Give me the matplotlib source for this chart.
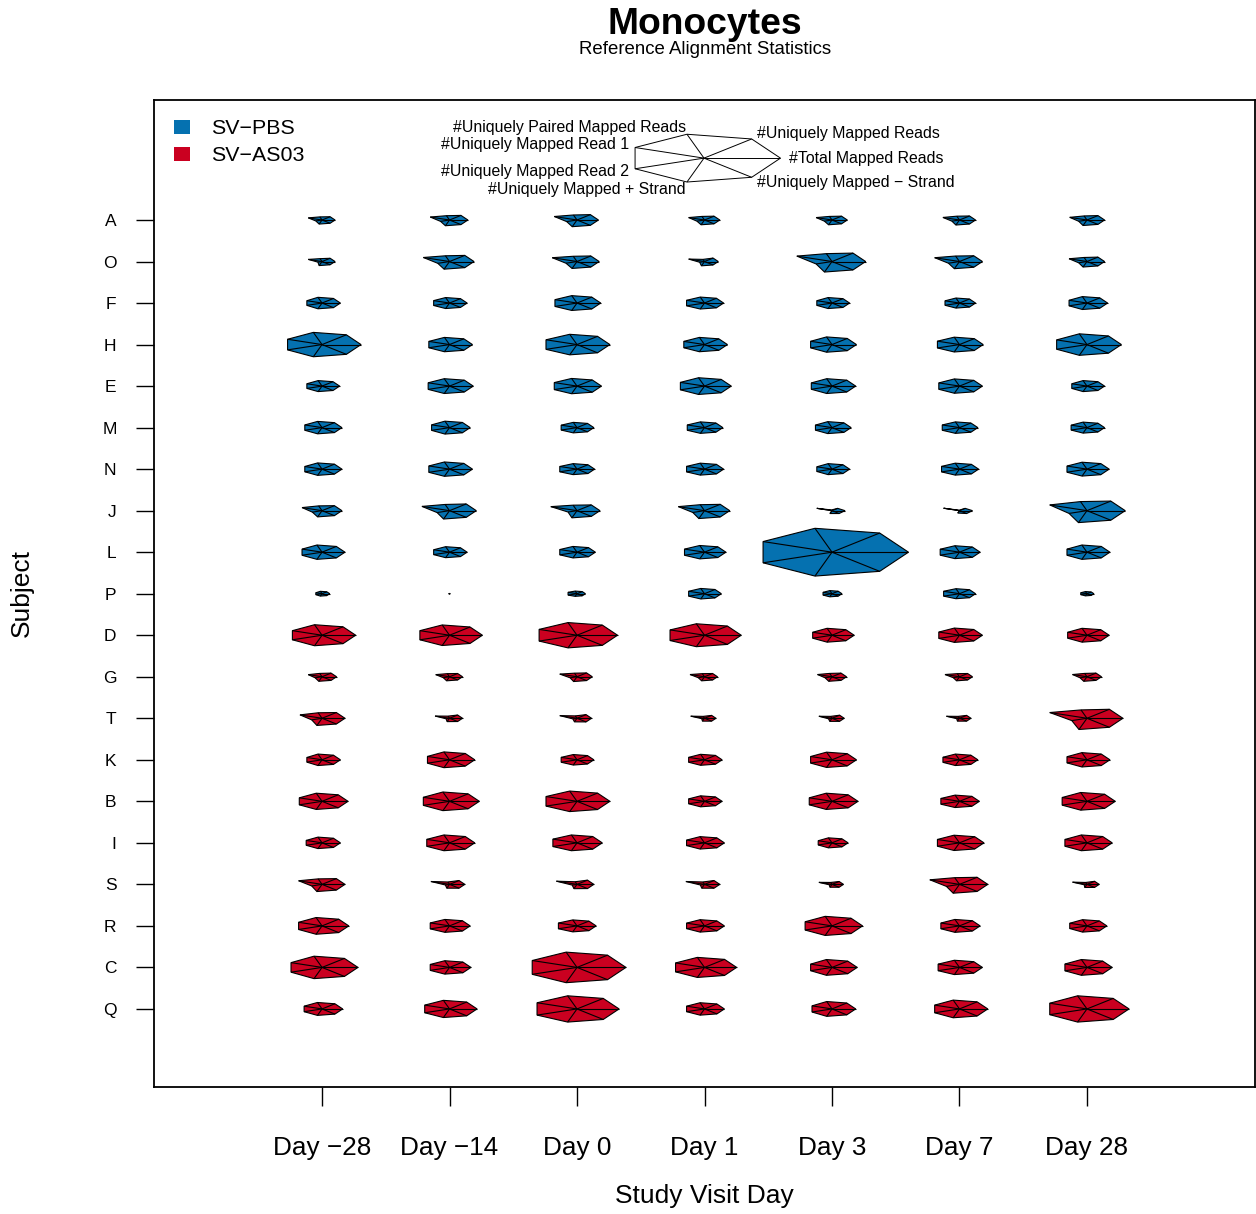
import numpy as np
import matplotlib
matplotlib.use("Agg")
import matplotlib.pyplot as plt
from matplotlib.patches import Polygon, Rectangle

plt.rcParams['font.family'] = ['Liberation Sans', 'DejaVu Sans']

subjects = ['A', 'O', 'F', 'H', 'E', 'M', 'N', 'J', 'L', 'P',
            'D', 'G', 'T', 'K', 'B', 'I', 'S', 'R', 'C', 'Q']
groups = ['SV\u2212PBS'] * 10 + ['SV\u2212AS03'] * 10
days = ['Day \u221228', 'Day \u221214', 'Day 0', 'Day 1', 'Day 3', 'Day 7', 'Day 28']
variables = ['#Total Mapped Reads', '#Uniquely Mapped Reads',
             '#Uniquely Paired Mapped Reads', '#Uniquely Mapped Read 1',
             '#Uniquely Mapped Read 2', '#Uniquely Mapped + Strand',
             '#Uniquely Mapped \u2212 Strand']
group_colors = {'SV\u2212PBS': '#0571B0', 'SV\u2212AS03': '#CA0020'}

# scaled statistics (0 = min, 1 = max over all samples), rows = subjects, cols = days
total_mapped = [
    [0.17, 0.24, 0.28, 0.20, 0.20, 0.21, 0.23],
    [0.17, 0.32, 0.29, 0.18, 0.44, 0.30, 0.23],
    [0.24, 0.23, 0.31, 0.25, 0.23, 0.21, 0.27],
    [0.51, 0.30, 0.43, 0.30, 0.32, 0.31, 0.45],
    [0.23, 0.31, 0.32, 0.35, 0.31, 0.30, 0.23],
    [0.26, 0.27, 0.22, 0.24, 0.25, 0.24, 0.23],
    [0.26, 0.30, 0.23, 0.25, 0.23, 0.25, 0.29],
    [0.26, 0.35, 0.30, 0.33, 0.17, 0.17, 0.50],
    [0.30, 0.23, 0.24, 0.28, 1.00, 0.27, 0.30],
    [0.10, 0.01, 0.11, 0.22, 0.13, 0.21, 0.09],
    [0.44, 0.43, 0.53, 0.48, 0.29, 0.30, 0.29],
    [0.19, 0.17, 0.20, 0.17, 0.19, 0.17, 0.19],
    [0.30, 0.17, 0.19, 0.15, 0.16, 0.15, 0.47],
    [0.24, 0.33, 0.22, 0.23, 0.32, 0.24, 0.30],
    [0.34, 0.39, 0.43, 0.23, 0.34, 0.26, 0.37],
    [0.24, 0.33, 0.33, 0.26, 0.21, 0.32, 0.33],
    [0.30, 0.20, 0.22, 0.20, 0.15, 0.37, 0.16],
    [0.35, 0.27, 0.25, 0.26, 0.40, 0.27, 0.26],
    [0.47, 0.28, 0.64, 0.42, 0.33, 0.30, 0.33],
    [0.27, 0.36, 0.55, 0.26, 0.31, 0.37, 0.55],
]
uniq_mapped = [
    [0.17, 0.24, 0.28, 0.20, 0.20, 0.21, 0.23],
    [0.17, 0.32, 0.29, 0.18, 0.44, 0.30, 0.23],
    [0.24, 0.23, 0.31, 0.25, 0.23, 0.21, 0.27],
    [0.51, 0.30, 0.43, 0.30, 0.32, 0.31, 0.45],
    [0.23, 0.31, 0.32, 0.35, 0.31, 0.30, 0.23],
    [0.26, 0.27, 0.22, 0.24, 0.25, 0.24, 0.23],
    [0.26, 0.30, 0.23, 0.25, 0.23, 0.25, 0.29],
    [0.26, 0.35, 0.30, 0.33, 0.12, 0.12, 0.50],
    [0.30, 0.23, 0.24, 0.28, 1.00, 0.27, 0.30],
    [0.10, 0.01, 0.11, 0.22, 0.13, 0.21, 0.09],
    [0.44, 0.43, 0.53, 0.48, 0.29, 0.30, 0.29],
    [0.19, 0.17, 0.20, 0.17, 0.19, 0.17, 0.19],
    [0.30, 0.17, 0.19, 0.15, 0.16, 0.15, 0.47],
    [0.24, 0.33, 0.22, 0.23, 0.32, 0.24, 0.30],
    [0.34, 0.39, 0.43, 0.23, 0.34, 0.26, 0.37],
    [0.24, 0.33, 0.33, 0.26, 0.21, 0.32, 0.33],
    [0.30, 0.20, 0.22, 0.20, 0.15, 0.37, 0.16],
    [0.35, 0.27, 0.25, 0.26, 0.40, 0.27, 0.26],
    [0.47, 0.28, 0.64, 0.42, 0.33, 0.30, 0.33],
    [0.27, 0.36, 0.55, 0.26, 0.31, 0.37, 0.55],
]
uniq_paired = [
    [0.13, 0.18, 0.21, 0.15, 0.15, 0.16, 0.17],
    [0.12, 0.24, 0.22, 0.09, 0.33, 0.23, 0.17],
    [0.24, 0.23, 0.31, 0.25, 0.23, 0.21, 0.27],
    [0.51, 0.30, 0.43, 0.30, 0.32, 0.31, 0.45],
    [0.23, 0.31, 0.32, 0.35, 0.31, 0.30, 0.23],
    [0.26, 0.27, 0.22, 0.24, 0.25, 0.24, 0.23],
    [0.26, 0.30, 0.23, 0.25, 0.23, 0.25, 0.29],
    [0.20, 0.26, 0.23, 0.25, 0.03, 0.02, 0.38],
    [0.30, 0.23, 0.24, 0.28, 1.00, 0.27, 0.30],
    [0.10, 0.01, 0.11, 0.22, 0.13, 0.21, 0.09],
    [0.44, 0.43, 0.53, 0.48, 0.29, 0.30, 0.29],
    [0.14, 0.13, 0.15, 0.13, 0.14, 0.13, 0.14],
    [0.23, 0.09, 0.10, 0.08, 0.08, 0.08, 0.35],
    [0.24, 0.33, 0.22, 0.23, 0.32, 0.24, 0.30],
    [0.34, 0.39, 0.43, 0.23, 0.34, 0.26, 0.37],
    [0.24, 0.33, 0.33, 0.26, 0.21, 0.32, 0.33],
    [0.23, 0.10, 0.11, 0.10, 0.08, 0.28, 0.08],
    [0.35, 0.27, 0.25, 0.26, 0.40, 0.27, 0.26],
    [0.47, 0.28, 0.64, 0.42, 0.33, 0.30, 0.33],
    [0.27, 0.36, 0.55, 0.26, 0.31, 0.37, 0.55],
]
uniq_read1 = [
    [0.20, 0.28, 0.33, 0.23, 0.23, 0.24, 0.25],
    [0.20, 0.38, 0.36, 0.23, 0.51, 0.36, 0.26],
    [0.22, 0.23, 0.32, 0.26, 0.22, 0.21, 0.26],
    [0.50, 0.30, 0.45, 0.30, 0.31, 0.32, 0.44],
    [0.22, 0.31, 0.33, 0.35, 0.30, 0.30, 0.22],
    [0.25, 0.26, 0.23, 0.25, 0.24, 0.25, 0.23],
    [0.25, 0.30, 0.25, 0.26, 0.22, 0.26, 0.29],
    [0.29, 0.40, 0.38, 0.38, 0.22, 0.23, 0.54],
    [0.29, 0.23, 0.25, 0.29, 1.00, 0.28, 0.29],
    [0.09, 0.01, 0.13, 0.23, 0.13, 0.23, 0.09],
    [0.43, 0.43, 0.55, 0.50, 0.28, 0.30, 0.28],
    [0.20, 0.20, 0.25, 0.21, 0.21, 0.21, 0.21],
    [0.32, 0.21, 0.25, 0.20, 0.19, 0.19, 0.54],
    [0.22, 0.32, 0.23, 0.23, 0.31, 0.24, 0.29],
    [0.33, 0.38, 0.45, 0.23, 0.33, 0.27, 0.36],
    [0.23, 0.33, 0.35, 0.26, 0.20, 0.32, 0.32],
    [0.34, 0.27, 0.30, 0.27, 0.19, 0.43, 0.21],
    [0.34, 0.28, 0.27, 0.26, 0.39, 0.27, 0.25],
    [0.45, 0.28, 0.65, 0.42, 0.31, 0.31, 0.32],
    [0.26, 0.36, 0.58, 0.26, 0.29, 0.36, 0.54],
]
uniq_read2 = [
    [0.09, 0.13, 0.15, 0.11, 0.11, 0.11, 0.12],
    [0.06, 0.17, 0.16, 0.07, 0.23, 0.16, 0.12],
    [0.22, 0.23, 0.32, 0.26, 0.22, 0.21, 0.26],
    [0.50, 0.30, 0.45, 0.30, 0.31, 0.32, 0.44],
    [0.22, 0.31, 0.33, 0.35, 0.30, 0.30, 0.22],
    [0.25, 0.26, 0.23, 0.25, 0.24, 0.25, 0.23],
    [0.25, 0.30, 0.25, 0.26, 0.22, 0.26, 0.29],
    [0.14, 0.18, 0.13, 0.17, 0.00, 0.00, 0.26],
    [0.29, 0.23, 0.25, 0.29, 1.00, 0.28, 0.29],
    [0.09, 0.01, 0.13, 0.23, 0.13, 0.23, 0.09],
    [0.43, 0.43, 0.55, 0.50, 0.28, 0.30, 0.28],
    [0.10, 0.09, 0.10, 0.09, 0.10, 0.09, 0.10],
    [0.15, 0.05, 0.06, 0.04, 0.05, 0.04, 0.22],
    [0.22, 0.32, 0.23, 0.23, 0.31, 0.24, 0.29],
    [0.33, 0.38, 0.45, 0.23, 0.33, 0.27, 0.36],
    [0.23, 0.33, 0.35, 0.26, 0.20, 0.32, 0.32],
    [0.15, 0.06, 0.07, 0.06, 0.04, 0.19, 0.04],
    [0.34, 0.28, 0.27, 0.26, 0.39, 0.27, 0.25],
    [0.45, 0.28, 0.65, 0.42, 0.31, 0.31, 0.32],
    [0.26, 0.36, 0.58, 0.26, 0.29, 0.36, 0.54],
]
uniq_plus = [
    [0.17, 0.24, 0.28, 0.20, 0.20, 0.21, 0.23],
    [0.17, 0.32, 0.29, 0.18, 0.44, 0.30, 0.23],
    [0.24, 0.23, 0.31, 0.25, 0.23, 0.21, 0.27],
    [0.51, 0.30, 0.43, 0.30, 0.32, 0.31, 0.45],
    [0.23, 0.31, 0.32, 0.35, 0.31, 0.30, 0.23],
    [0.26, 0.27, 0.22, 0.24, 0.25, 0.24, 0.23],
    [0.26, 0.30, 0.23, 0.25, 0.23, 0.25, 0.29],
    [0.26, 0.35, 0.30, 0.33, 0.12, 0.10, 0.50],
    [0.30, 0.23, 0.24, 0.28, 1.00, 0.27, 0.30],
    [0.10, 0.01, 0.11, 0.22, 0.13, 0.21, 0.09],
    [0.44, 0.43, 0.53, 0.48, 0.29, 0.30, 0.29],
    [0.19, 0.17, 0.20, 0.17, 0.19, 0.17, 0.19],
    [0.30, 0.14, 0.15, 0.12, 0.13, 0.12, 0.47],
    [0.24, 0.33, 0.22, 0.23, 0.32, 0.24, 0.30],
    [0.34, 0.39, 0.43, 0.23, 0.34, 0.26, 0.37],
    [0.24, 0.33, 0.33, 0.26, 0.21, 0.32, 0.33],
    [0.30, 0.16, 0.18, 0.16, 0.12, 0.37, 0.13],
    [0.35, 0.27, 0.25, 0.26, 0.40, 0.27, 0.26],
    [0.47, 0.28, 0.64, 0.42, 0.33, 0.30, 0.33],
    [0.27, 0.36, 0.55, 0.26, 0.31, 0.37, 0.55],
]
uniq_minus = [
    [0.17, 0.24, 0.28, 0.20, 0.20, 0.21, 0.23],
    [0.17, 0.32, 0.29, 0.18, 0.44, 0.30, 0.23],
    [0.24, 0.23, 0.31, 0.25, 0.23, 0.21, 0.27],
    [0.51, 0.30, 0.43, 0.30, 0.32, 0.31, 0.45],
    [0.23, 0.31, 0.32, 0.35, 0.31, 0.30, 0.23],
    [0.26, 0.27, 0.22, 0.24, 0.25, 0.24, 0.23],
    [0.26, 0.30, 0.23, 0.25, 0.23, 0.25, 0.29],
    [0.26, 0.35, 0.30, 0.33, 0.15, 0.15, 0.50],
    [0.30, 0.23, 0.24, 0.28, 1.00, 0.27, 0.30],
    [0.10, 0.01, 0.11, 0.22, 0.13, 0.21, 0.09],
    [0.44, 0.43, 0.53, 0.48, 0.29, 0.30, 0.29],
    [0.19, 0.17, 0.20, 0.17, 0.19, 0.17, 0.19],
    [0.30, 0.17, 0.19, 0.15, 0.16, 0.15, 0.47],
    [0.24, 0.33, 0.22, 0.23, 0.32, 0.24, 0.30],
    [0.34, 0.39, 0.43, 0.23, 0.34, 0.26, 0.37],
    [0.24, 0.33, 0.33, 0.26, 0.21, 0.32, 0.33],
    [0.30, 0.20, 0.22, 0.20, 0.15, 0.37, 0.16],
    [0.35, 0.27, 0.25, 0.26, 0.40, 0.27, 0.26],
    [0.47, 0.28, 0.64, 0.42, 0.33, 0.30, 0.33],
    [0.27, 0.36, 0.55, 0.26, 0.31, 0.37, 0.55],
]

stats = np.stack([total_mapped, uniq_mapped, uniq_paired, uniq_read1,
                  uniq_read2, uniq_plus, uniq_minus], axis=-1)

W, H = 1256, 1214
fig = plt.figure(figsize=(W / 100, H / 100), dpi=100)
ax = fig.add_axes([154 / W, (H - 1087) / H, (1255 - 154) / W, (1087 - 100) / H])

nvar = len(variables)
angles = 2 * np.pi * np.arange(nvar) / nvar


def star(ax, cx, cy, vals, fc, rx=0.6, ry=0.59, lw=0.8):
    xs = cx + rx * vals * np.cos(angles)
    ys = cy - ry * vals * np.sin(angles)
    if fc is not None:
        ax.add_patch(Polygon(np.column_stack([xs, ys]), closed=True,
                             facecolor=fc, edgecolor='black', lw=lw,
                             joinstyle='miter', zorder=2))
    else:
        ax.add_patch(Polygon(np.column_stack([xs, ys]), closed=True,
                             fill=False, edgecolor='black', lw=lw, zorder=2))
    for x, y in zip(xs, ys):
        ax.plot([cx, x], [cy, y], color='black', lw=lw, zorder=3,
                solid_capstyle='butt')


for i, subj in enumerate(subjects):
    for j in range(len(days)):
        star(ax, j + 1, i + 1, stats[i, j], group_colors[groups[i]])

# key star with its labels
star(ax, 3.996, -0.49, np.ones(nvar), None, lw=0.7)
key_pos = [(4.663, -0.493, 'left'), (4.412, -1.095, 'left'),
           (3.855, -1.239, 'right'), (3.408, -0.830, 'right'),
           (3.408, -0.180, 'right'), (3.855, 0.254, 'right'),
           (4.412, 0.085, 'left')]
for (x, y, ha), lab in zip(key_pos, variables):
    ax.text(x, y, lab, ha=ha, va='center', fontsize=11.4)

ax.set_xlim(-0.318, 8.318)
ax.set_ylim(21.88, -1.89)
ax.set_xticks(np.arange(1, len(days) + 1))
ax.set_xticklabels(days, fontsize=18.8)
ax.set_yticks(np.arange(1, len(subjects) + 1))
ax.set_yticklabels(subjects, fontsize=12.5)
ax.tick_params(axis='x', length=13.5, width=1.0, pad=22)
ax.tick_params(axis='y', length=13, width=1.0, pad=14)
for sp in ax.spines.values():
    sp.set_linewidth(1.3)

ax.set_xlabel('Study Visit Day', fontsize=19, labelpad=17)
fig.text(22 / W, 1 - 593 / H, 'Subject', rotation=90, ha='center',
         va='center', fontsize=19)

fig.text(705 / W, 1 - 25 / H, 'Monocytes', ha='center', va='center',
         fontsize=26.8, fontweight='bold')
fig.text(705 / W, 1 - 50 / H, 'Reference Alignment Statistics', ha='center',
         va='center', fontsize=13.4)

# group legend
for g, yc in zip(['SV\u2212PBS', 'SV\u2212AS03'], [127, 154]):
    fig.patches.append(Rectangle((174 / W, 1 - (yc + 7) / H), 16 / W, 14 / H,
                                 transform=fig.transFigure,
                                 facecolor=group_colors[g], edgecolor='none'))
    fig.text(211 / W, 1 - (yc + 1.5) / H, g, ha='left', va='center',
             fontsize=15.4)

fig.savefig('out.png', dpi=100)
